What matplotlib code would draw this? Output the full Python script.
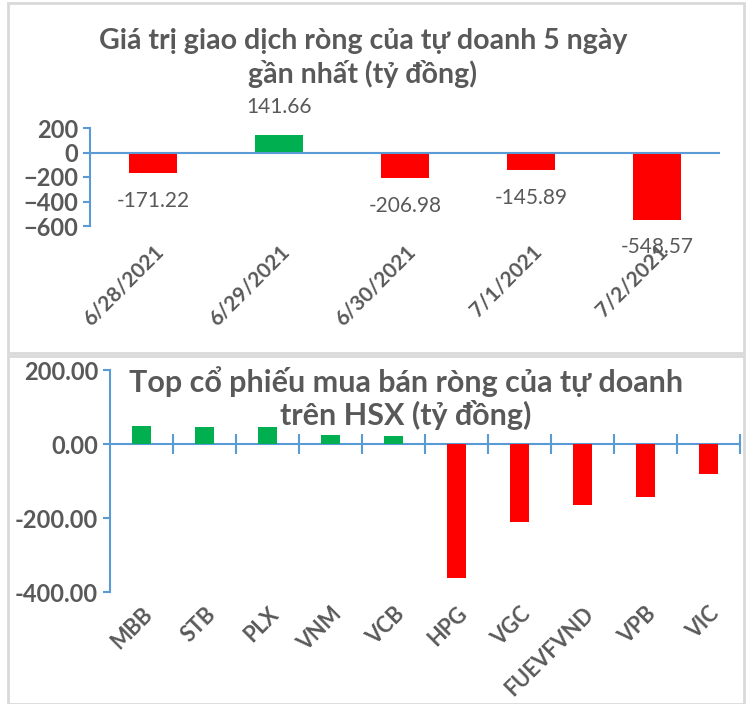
import matplotlib.pyplot as plt
from matplotlib.patches import Rectangle

# net trading of proprietary desks, last 5 sessions
dates = ["6/28/2021", "6/29/2021", "6/30/2021", "7/1/2021", "7/2/2021"]
net_value = [-171.22, 141.66, -206.98, -145.89, -548.57]

# top stocks on HSX
tickers = ["MBB", "STB", "PLX", "VNM", "VCB", "HPG", "VGC", "FUEVFVND", "VPB", "VIC"]
ticker_value = [49.5, 46.0, 45.0, 23.5, 22.5, -361.0, -210.0, -164.0, -142.0, -80.0]

GREEN = "#00B050"
RED = "#FF0000"
BLUE = "#5B9BD5"
GREY = "#595959"
BORDER = "#D9D9D9"

plt.rcParams["font.family"] = ["Lato", "DejaVu Sans"]


def bar_colors(values):
    return [GREEN if v >= 0 else RED for v in values]


def style_axis(ax):
    for side in ["top", "right", "bottom"]:
        ax.spines[side].set_visible(False)
    ax.spines["left"].set_color(BLUE)
    ax.spines["left"].set_linewidth(1.5)
    ax.tick_params(axis="y", colors=BLUE, length=5, width=1.5,
                   labelcolor=GREY, labelsize=17)
    for lbl in ax.get_yticklabels():
        lbl.set_fontweight("bold")


fig = plt.figure(figsize=(7.5, 7.04), dpi=100)

# panel borders
for y0, h in [(1 - 353 / 704, 350 / 704), (0.0, 1 - 356 / 704)]:
    fig.patches.append(Rectangle((8 / 750, y0), 736 / 750, h, transform=fig.transFigure,
                                 fill=False, edgecolor=BORDER, linewidth=2))

# ---- top chart ----
ax1 = fig.add_axes([90 / 750, 1 - 226 / 704, 630 / 750, 98 / 704])
x1 = range(len(dates))
bars = ax1.bar(x1, net_value, width=0.38, color=bar_colors(net_value))
ax1.set_xlim(-0.5, len(dates) - 0.5)
ax1.set_ylim(-600, 200)
ax1.set_yticks([200, 0, -200, -400, -600])
ax1.axhline(0, color=BLUE, linewidth=1.5)
style_axis(ax1)
ax1.set_xticks(list(x1))
ax1.set_xticklabels(dates, rotation=45, ha="right", va="top", rotation_mode="anchor",
                    fontsize=15, fontweight="bold", color=GREY)
ax1.tick_params(axis="x", length=0, pad=11)
for rect, v in zip(bars, net_value):
    ax1.annotate(f"{v:.2f}", (rect.get_x() + rect.get_width() / 2, v),
                 xytext=(0, 20 if v >= 0 else -20), textcoords="offset points",
                 ha="center", va="center", fontsize=15, color=GREY,
                 annotation_clip=False)
fig.text(363 / 750, 1 - 58 / 704, "Giá trị giao dịch ròng của tự doanh 5 ngày\ngần nhất (tỷ đồng)",
         ha="center", va="center", fontsize=20.5, fontweight="bold", color=GREY,
         linespacing=1.3)

# ---- bottom chart ----
ax2 = fig.add_axes([110 / 750, 1 - 592 / 704, 630 / 750, 222 / 704])
x2 = range(len(tickers))
ax2.bar(x2, ticker_value, width=0.31, color=bar_colors(ticker_value))
ax2.set_xlim(-0.5, len(tickers) - 0.5)
ax2.set_ylim(-400, 200)
ax2.set_yticks([200, 0, -200, -400])
ax2.set_yticklabels([f"{t:.2f}" for t in [200, 0, -200, -400]])
style_axis(ax2)
ax2.set_xticks(list(x2))
ax2.set_xticklabels(tickers, rotation=45, ha="right", va="top", rotation_mode="anchor",
                    fontsize=15.5, fontweight="bold", color=GREY)
ax2.tick_params(axis="x", length=0, pad=8)

# category axis crossing at zero with boundary ticks
zero_axis = ax2.secondary_xaxis(0, transform=ax2.transData)
zero_axis.spines["bottom"].set_color(BLUE)
zero_axis.spines["bottom"].set_linewidth(1.5)
zero_axis.set_xticks([i + 0.5 for i in x2])
zero_axis.set_xticklabels([])
zero_axis.tick_params(direction="inout", length=14, width=1.5, color=BLUE)

fig.text(406 / 750, 1 - 398 / 704, "Top cổ phiếu mua bán ròng của tự doanh\ntrên HSX (tỷ đồng)",
         ha="center", va="center", fontsize=22, fontweight="bold", color=GREY,
         linespacing=1.15)

fig.savefig("out.png", dpi=100)
